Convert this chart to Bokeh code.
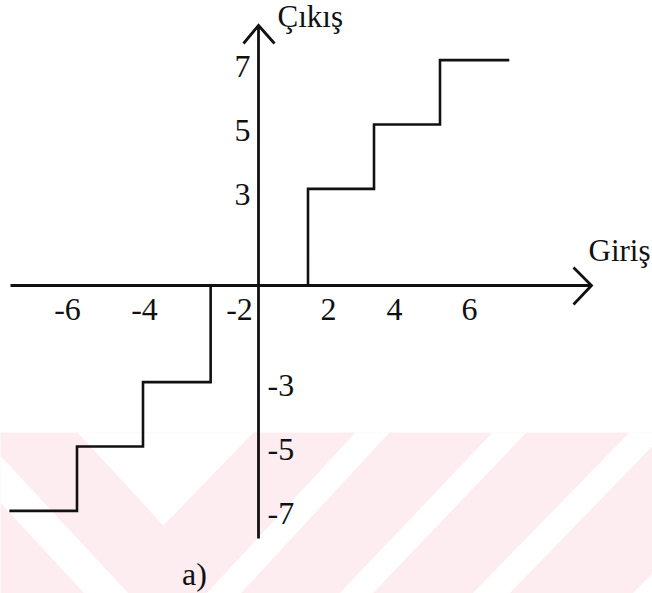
from bokeh.plotting import figure
from bokeh.models import Range1d
from bokeh.core.properties import value
from bokeh.embed import file_html
from bokeh.resources import INLINE

# ---- data ----
pos_thresholds = [1.5, 3.5, 5.5]
pos_levels = [3, 5, 7]
pos_end = 7.6
neg_thresholds = [-1.45, -3.5, -5.5]
neg_levels = [-3, -5, -7]
neg_end = -7.55
x_tick_labels = ["-6", "-4", "-2", "2", "4", "6"]
y_pos_tick_values = [7, 5, 3]
y_neg_tick_values = [-3, -5, -7]
x_axis_label = "Giriş"
y_axis_label = "Çıkış"
caption = "a)"

# ---- layout (pixel geometry of the page) ----
X0, Y0 = 258, 285      # window pixel of the origin
SX, SY = 33.0, 32.2    # pixels per unit
W, H = 652, 593
OX, OY = 0, 0          # window pixel of the figure's top-left corner
TS = 11                # text baseline correction (px)

def dx(wx):
    return (wx - X0) / SX

def dy(wy):
    return (Y0 - wy) / SY

FONT = value("Liberation Serif")
FS = "32px"
INK = "#111111"
PINK = "#fdedf0"

p = figure(width=W, height=H, output_backend="svg", toolbar_location=None,
           x_range=Range1d(dx(OX), dx(OX + W)), y_range=Range1d(dy(OY + H), dy(OY)),
           min_border=0, outline_line_color=None, background_fill_color="white",
           border_fill_color="white")
p.axis.visible = False
p.grid.visible = False

# ---- faint watermark in the lower part ----
p.patch([dx(-20), dx(700), dx(700), dx(-20)], [dy(432), dy(432), dy(620), dy(620)],
        fill_color=PINK, line_color=None)
white_shapes = [
    [(77, 432), (253, 432), (163, 525)],
    [(-5, 450), (-5, 497), (84, 593), (128, 593)],
    [(355, 432), (389, 432), (240, 593), (206, 593)],
    [(492, 432), (526, 432), (372, 593), (339, 593)],
    [(629, 432), (665, 432), (509, 593), (472, 593)],
    [(632, 593), (660, 565), (660, 600)],
]
p.patches([[dx(a) for a, b in s] for s in white_shapes],
          [[dy(b) for a, b in s] for s in white_shapes],
          fill_color="white", line_color=None)

# ---- axes with open arrow heads ----
p.line([dx(10), dx(591)], [0, 0], line_color=INK, line_width=2.8)
p.line([0, 0], [dy(538), dy(26)], line_color=INK, line_width=2.8)
p.line([dx(573), dx(591), dx(573)], [dy(267), 0, dy(304)], line_color=INK,
       line_width=2.8, line_join="miter")
p.line([dx(243), 0, dx(274)], [dy(43), dy(25), dy(43)], line_color=INK,
       line_width=2.8, line_join="miter")

# ---- staircase ----
def stair(ths, lvls, end):
    xs, ys = [], []
    prev = 0
    for t, l in zip(ths, lvls):
        xs += [t, t]
        ys += [prev, l]
        prev = l
    xs.append(end)
    ys.append(prev)
    return xs, ys

xp, yp = stair(pos_thresholds, pos_levels, pos_end)
xn, yn = stair(neg_thresholds, neg_levels, neg_end)
p.line(xp, yp, line_color=INK, line_width=2.6, line_join="miter")
p.line(xn, yn, line_color=INK, line_width=2.6, line_join="miter")

# ---- tick labels ----
x_label_px = [67, 144, 239, 328, 394, 469]
p.text([dx(v) for v in x_label_px], [dy(320 - TS)] * len(x_tick_labels), text=x_tick_labels,
       text_font=FONT, text_font_size=FS, text_color=INK,
       text_align="center", text_baseline="alphabetic")
p.text([0] * 3, y_pos_tick_values, text=[str(v) for v in y_pos_tick_values],
       x_offset=-8, y_offset=17 - TS,
       text_font=FONT, text_font_size=FS, text_color=INK,
       text_align="right", text_baseline="alphabetic")
p.text([0] * 3, y_neg_tick_values, text=[str(v) for v in y_neg_tick_values],
       x_offset=9, y_offset=14 - TS,
       text_font=FONT, text_font_size=FS, text_color=INK,
       text_align="left", text_baseline="alphabetic")

# ---- axis names and caption ----
p.text([dx(277)], [dy(27 - TS)], text=[y_axis_label], text_font=FONT, text_font_size="31px",
       text_color=INK, text_align="left", text_baseline="alphabetic")
p.text([dx(650)], [dy(261 - TS)], text=[x_axis_label], text_font=FONT, text_font_size="31px",
       text_color=INK, text_align="right", text_baseline="alphabetic")
p.text([dx(194)], [dy(584 - TS)], text=[caption], text_font=FONT, text_font_size=FS,
       text_color=INK, text_align="center", text_baseline="alphabetic")

open("out.html", "w").write(file_html(p, INLINE))
